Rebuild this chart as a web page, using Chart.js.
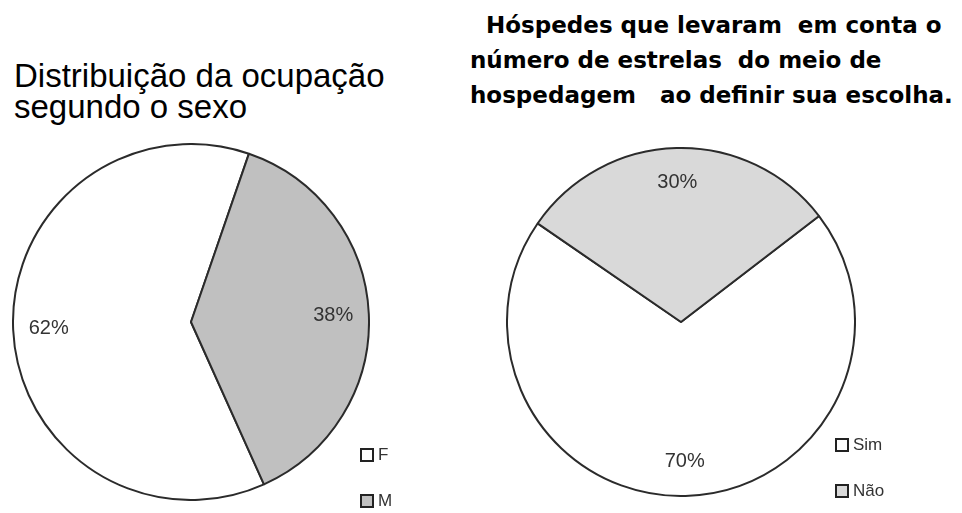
<!DOCTYPE html>
<html>
<head>
<meta charset="utf-8">
<script src="https://cdn.jsdelivr.net/npm/chart.js@4/dist/chart.umd.min.js"></script>
<style>
  body { margin: 0; width: 962px; height: 513px; background: #fff; position: relative; overflow: hidden; }
  .title1 { position: absolute; left: 14px; top: 60px; font-family: "Liberation Sans", Arial, sans-serif; font-size: 33px; line-height: 31px; color: #000; }
  .title2 { position: absolute; left: 470px; top: 8px; font-family: "DejaVu Sans", sans-serif; font-weight: bold; font-size: 23px; line-height: 35px; color: #000; white-space: pre; }
  .box { position: absolute; }
  .legend { position: absolute; font-family: "Liberation Sans", Arial, sans-serif; font-size: 17px; color: #333; }
  .legend div { height: 46px; display: flex; align-items: center; }
  .legend span.sw { display: inline-block; width: 10px; height: 10px; border: 2px solid #222; margin-right: 4px; }
</style>
</head>
<body>
<div class="title1">Distribuição da ocupação<br>segundo o sexo</div>
<div class="title2">  Hóspedes que levaram  em conta o
número de estrelas  do meio de
hospedagem   ao definir sua escolha.</div>

<div class="box" style="left:12px;top:143px;width:358px;height:358px"><canvas id="pie1"></canvas></div>
<div class="box" style="left:506px;top:147px;width:350px;height:350px"><canvas id="pie2"></canvas></div>
<div class="legend" id="leg1" style="left:360px;top:432px"></div>
<div class="legend" id="leg2" style="left:835px;top:422px"></div>

<script>
// dados dos graficos
const sexoLabels = ['F', 'M'];
const sexoValores = [62, 38];
const sexoCores = ['#ffffff', '#c0c0c0'];

const estrelasLabels = ['Sim', 'Não'];
const estrelasValores = [70, 30];
const estrelasCores = ['#ffffff', '#d9d9d9'];

// plugin simples para escrever a porcentagem dentro de cada fatia
const rotulos = {
  id: 'rotulos',
  afterDatasetsDraw(chart) {
    const ctx = chart.ctx;
    const meta = chart.getDatasetMeta(0);
    const vals = chart.data.datasets[0].data;
    ctx.save();
    ctx.font = '20px "Liberation Sans", Arial, sans-serif';
    ctx.fillStyle = '#333';
    ctx.textAlign = 'center';
    ctx.textBaseline = 'middle';
    meta.data.forEach((arc, i) => {
      const mid = (arc.startAngle + arc.endAngle) / 2;
      const r = arc.outerRadius * 0.8;
      ctx.fillText(vals[i] + '%', arc.x + Math.cos(mid) * r, arc.y + Math.sin(mid) * r);
    });
    ctx.restore();
  }
};

function fazPizza(id, labels, valores, cores, rotacao) {
  return new Chart(document.getElementById(id), {
    type: 'pie',
    data: {
      labels: labels,
      datasets: [{
        data: valores,
        backgroundColor: cores,
        borderColor: '#2b2b2b',
        borderWidth: 2
      }]
    },
    options: {
      responsive: true,
      maintainAspectRatio: false,
      animation: false,
      rotation: rotacao,
      layout: { padding: 0 },
      plugins: { legend: { display: false }, tooltip: { enabled: false } }
    },
    plugins: [rotulos]
  });
}

function fazLegenda(id, labels, cores) {
  const el = document.getElementById(id);
  labels.forEach((l, i) => {
    const d = document.createElement('div');
    d.innerHTML = '<span class="sw" style="background:' + cores[i] + '"></span>' + l;
    el.appendChild(d);
  });
}

fazPizza('pie1', sexoLabels, sexoValores, sexoCores, 155.8);
fazPizza('pie2', estrelasLabels, estrelasValores, estrelasCores, 52.5);
fazLegenda('leg1', sexoLabels, sexoCores);
fazLegenda('leg2', estrelasLabels, estrelasCores);
</script>
</body>
</html>
